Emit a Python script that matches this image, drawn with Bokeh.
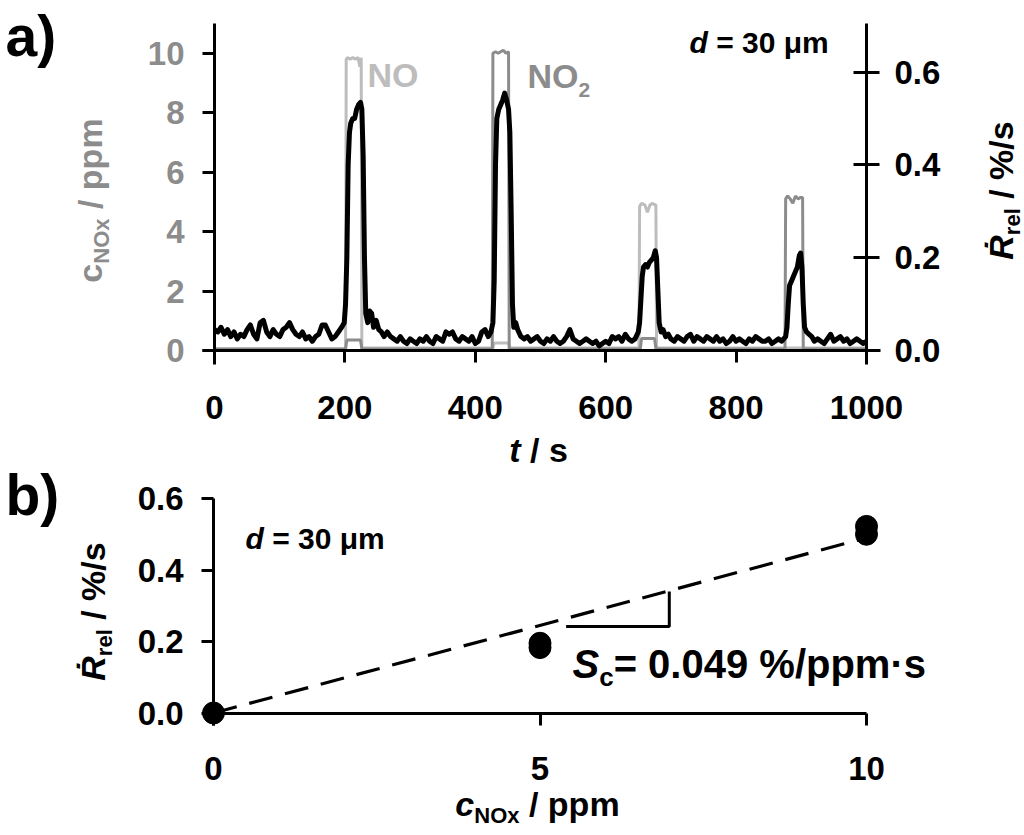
import math
from bokeh.plotting import figure
from bokeh.models import LinearAxis, Range1d, FixedTicker, Label, PrintfTickFormatter
from bokeh.embed import file_html
from bokeh.resources import INLINE

# ---------------- data: panel a ----------------
t_resp = [0, 5, 10, 15, 20, 25, 30, 35, 40, 45, 50, 55, 60, 65, 70, 75, 80, 85, 90, 95,
          100, 105, 110, 115, 120, 125, 130, 135, 140, 145, 150, 155, 160, 165, 170, 175, 180, 185, 190, 195,
          199, 201, 203, 205, 207, 209, 212, 215, 218, 221, 224, 226, 228, 230, 232, 235, 238, 241, 244, 248,
          252, 256, 260, 265, 270, 275, 280, 285, 290, 295, 300, 305, 310, 315, 320, 325, 330, 335, 340, 345,
          350, 355, 360, 365, 370, 375, 380, 385, 390, 395, 400, 405, 410, 415, 420, 424,
          427, 429, 431, 433, 436, 439, 442, 445, 448, 451, 453, 455, 457, 459, 462, 465, 470, 475, 480, 485,
          490, 495, 500, 505, 510, 515, 520, 525, 530, 535, 540, 545, 550, 555, 560, 565, 570, 575, 580, 585,
          590, 595, 600, 605, 610, 615, 620, 625, 630, 635, 640, 645, 650,
          652, 654, 656, 658, 661, 664, 667, 670, 673, 676, 678, 680, 682, 685, 688, 692, 696, 700, 705, 710,
          715, 720, 725, 730, 735, 740, 745, 750, 755, 760, 765, 770, 775, 780, 785, 790, 795, 800, 805, 810,
          815, 820, 825, 830, 835, 840, 845, 850, 855, 860, 865, 870, 876,
          878, 880, 882, 885, 888, 891, 894, 897, 899, 901, 903, 905, 908, 912, 916, 920, 925, 930, 935, 940,
          945, 950, 955, 960, 965, 970, 975, 980, 985, 990, 995, 1000]
r_resp = [0.045, 0.040, 0.050, 0.035, 0.045, 0.030, 0.040, 0.025, 0.035, 0.030, 0.045, 0.055, 0.035, 0.025, 0.060, 0.065, 0.040, 0.030, 0.045, 0.035,
          0.030, 0.045, 0.050, 0.060, 0.045, 0.035, 0.030, 0.040, 0.025, 0.030, 0.020, 0.030, 0.035, 0.055, 0.055, 0.040, 0.025, 0.030, 0.040, 0.050,
          0.060, 0.100, 0.200, 0.400, 0.470, 0.490, 0.500, 0.500, 0.520, 0.530, 0.535, 0.520, 0.420, 0.200, 0.080, 0.060, 0.085, 0.080, 0.050, 0.065,
          0.045, 0.040, 0.030, 0.040, 0.030, 0.025, 0.020, 0.030, 0.020, 0.015, 0.025, 0.020, 0.015, 0.025, 0.020, 0.030, 0.020, 0.015, 0.030, 0.025,
          0.020, 0.040, 0.035, 0.040, 0.025, 0.020, 0.030, 0.025, 0.020, 0.030, 0.015, 0.020, 0.040, 0.045, 0.030, 0.040,
          0.060, 0.150, 0.400, 0.500, 0.520, 0.530, 0.540, 0.555, 0.540, 0.520, 0.470, 0.300, 0.100, 0.050, 0.060, 0.045, 0.030, 0.025, 0.030, 0.020,
          0.025, 0.030, 0.020, 0.015, 0.025, 0.020, 0.030, 0.020, 0.015, 0.020, 0.030, 0.045, 0.025, 0.020, 0.015, 0.020, 0.025, 0.020, 0.015, 0.020,
          0.010, 0.015, 0.020, 0.015, 0.030, 0.025, 0.030, 0.020, 0.035, 0.025, 0.020, 0.025, 0.040,
          0.060, 0.110, 0.160, 0.180, 0.185, 0.180, 0.190, 0.195, 0.200, 0.215, 0.200, 0.130, 0.060, 0.040, 0.045, 0.030, 0.035, 0.025, 0.020, 0.030,
          0.025, 0.020, 0.030, 0.035, 0.020, 0.030, 0.025, 0.020, 0.030, 0.025, 0.020, 0.030, 0.020, 0.025, 0.015, 0.020, 0.030, 0.020, 0.025, 0.020,
          0.015, 0.025, 0.020, 0.030, 0.025, 0.020, 0.020, 0.025, 0.015, 0.020, 0.025, 0.020, 0.030,
          0.050, 0.100, 0.140, 0.150, 0.160, 0.170, 0.180, 0.205, 0.210, 0.180, 0.100, 0.050, 0.040, 0.035, 0.030, 0.020, 0.025, 0.020, 0.015, 0.025,
          0.035, 0.020, 0.025, 0.030, 0.020, 0.025, 0.015, 0.020, 0.025, 0.020, 0.015, 0.020]

t_no = [0, 201, 202, 204, 208, 212, 216, 220, 223, 225, 226, 427, 429, 451, 453, 651, 652, 655, 660, 664, 668, 672, 675, 677, 678, 1000]
c_no = [0.05, 0.05, 9.80, 9.85, 9.80, 9.85, 9.80, 9.85, 9.55, 9.85, 0.08, 0.08, 0.25, 0.25, 0.08, 0.08, 4.85, 4.95, 4.90, 4.65, 4.90, 4.95, 4.90, 4.90, 0.08, 0.08]

t_no2 = [0, 201, 203, 224, 226, 426, 427, 431, 435, 439, 443, 447, 451, 452, 653, 655, 675, 677, 875, 876, 879, 883, 887, 891, 895, 899, 902, 903, 1000]
c_no2 = [0.05, 0.05, 0.35, 0.35, 0.05, 0.05, 10.00, 10.05, 10.00, 10.05, 10.10, 10.00, 10.05, 0.05, 0.05, 0.40, 0.40, 0.05, 0.05, 5.10, 5.20, 5.10, 4.95, 5.20, 5.10, 5.15, 5.15, 0.05, 0.05]

t_ticks = [0, 200, 400, 600, 800, 1000]
c_ticks = [0, 2, 4, 6, 8, 10]
r_ticks = [0.0, 0.2, 0.4, 0.6]

# ---------------- data: panel b ----------------
conc_b = [0, 5, 5, 10, 10]
rate_b = [0.0, 0.183, 0.195, 0.500, 0.522]
fit_conc = [0, 10]
fit_rate = [0.0, 0.49]
slope_tri_x = [5.4, 6.98, 6.98]
slope_tri_y = [0.242, 0.242, 0.340]
b_x_ticks = [0, 5, 10]
b_y_ticks = [0.0, 0.2, 0.4, 0.6]

# ---------------- helpers ----------------
FONT = "Liberation Sans"
GRAY_LIGHT = "#bdbdbd"
GRAY_MID = "#8c8c8c"
MID = 0.35   # offset of the label anchor (text middle) above the baseline, in em
W = {' ': 278, '%': 889, '(': 333, ')': 333, '.': 278, '/': 278, '=': 584, '·': 278,
     'a': 556, 'b': 611, 'c': 556, 'd': 611, 'e': 556, 'l': 278, 'm': 889, 'p': 611,
     'r': 389, 's': 556, 't': 333, 'x': 556, 'N': 722, 'O': 778, 'R': 722, 'S': 667,
     'μ': 611, 'Ṙ': 722}

WIDTH = 1024
HEIGHT = 834


def tw(text, size):
    return sum(W.get(ch, 556) for ch in text) / 1000.0 * size


def runs_len(runs):
    return sum(tw(r[0], r[1]) for r in runs)


def put(fig, runs, x0, y0, angle=0.0):
    """Place text runs; x0,y0 = page pixel coordinates of the baseline start."""
    x, y = x0, y0
    for text, size, italic, color, dy in runs:
        lead = len(text) - len(text.lstrip(" "))
        if lead:
            adv = tw(" " * lead, size)
            if angle == 0:
                x += adv
            else:
                y -= adv
            text = text.lstrip(" ")
        if angle == 0:
            ix, iy = x, y + dy - MID * size
        else:
            ix, iy = x + dy - MID * size, y
        fig.add_layout(Label(x=ix, y=HEIGHT - iy, x_units="screen", y_units="screen", text=text,
                             text_font=FONT, text_font_size=f"{size}px",
                             text_font_style="bold italic" if italic else "bold",
                             text_color=color, text_align="left", text_baseline="middle",
                             angle=angle))
        if angle == 0:
            x += tw(text, size)
        else:
            y -= tw(text, size)


def style_axis(ax, ticks, tick_in, tick_out, standoff, label_color="black", fmt=None):
    ax.ticker = FixedTicker(ticks=ticks)
    ax.axis_line_width = 3
    ax.axis_line_color = "black"
    ax.major_tick_line_width = 3
    ax.major_tick_line_color = "black"
    ax.major_tick_in = tick_in
    ax.major_tick_out = tick_out
    ax.minor_tick_line_color = None
    ax.major_label_text_font = FONT
    ax.major_label_text_font_style = "bold"
    ax.major_label_text_font_size = "33px"
    ax.major_label_text_color = label_color
    ax.major_label_standoff = standoff
    if fmt:
        ax.formatter = PrintfTickFormatter(format=fmt)


# page-pixel anchors of the two panels
ax_t0, ax_t1 = 214.0, 866.0          # panel a: t = 0, 1000
ay_0, ay_10 = 350.0, 52.7            # panel a: c = 0, 10
ar_0, ar_06 = 350.0, 71.7            # panel a: R = 0, 0.6
bx0, bx10 = 213.0, 866.0             # panel b: c = 0, 10
by0, by06 = 712.5, 498.0             # panel b: R = 0, 0.6
ppx = (ax_t1 - ax_t0) / 1000.0
ppc = (ay_0 - ay_10) / 10.0
ppr = (ar_0 - ar_06) / 0.6
ppbx = (bx10 - bx0) / 10.0
ppby = (by0 - by06) / 0.6

p = figure(width=WIDTH, height=HEIGHT, output_backend="svg", toolbar_location=None,
           x_axis_type=None, y_axis_type=None,
           x_range=Range1d(-ax_t0 / ppx, (WIDTH - ax_t0) / ppx),
           y_range=Range1d(-(HEIGHT - ay_0) / ppc, ay_0 / ppc),
           min_border_left=0, min_border_right=0, min_border_top=0, min_border_bottom=0)
p.extra_y_ranges = {"r": Range1d(-(HEIGHT - ar_0) / ppr, ar_0 / ppr),
                    "by": Range1d(-(HEIGHT - by0) / ppby, by0 / ppby)}
p.extra_x_ranges = {"bx": Range1d(-bx0 / ppbx, (WIDTH - bx0) / ppbx)}
p.outline_line_color = None
p.background_fill_color = "white"
p.border_fill_color = "white"

# ---- panel a marks ----
p.line(t_no, c_no, line_color=GRAY_LIGHT, line_width=3)
p.line(t_no2, c_no2, line_color=GRAY_MID, line_width=3)
p.line(t_resp, r_resp, line_color="black", line_width=5, y_range_name="r", line_join="round")

ax_left = LinearAxis(fixed_location=0)
style_axis(ax_left, c_ticks, 0, 12, 18, label_color=GRAY_MID)
ax_left.bounds = (-(364 - ay_0) / ppc, (ay_0 - 23) / ppc)
p.add_layout(ax_left, "left")

ax_right = LinearAxis(fixed_location=1000, y_range_name="r")
style_axis(ax_right, r_ticks, 13, 13, 15, fmt="%.1f")
ax_right.bounds = (-(364 - ar_0) / ppr, (ar_0 - 23) / ppr)
p.add_layout(ax_right, "right")

ax_bot = LinearAxis(fixed_location=0)
style_axis(ax_bot, t_ticks, 0, 12, 33)
ax_bot.bounds = ((202 - ax_t0) / ppx, (880 - ax_t0) / ppx)
p.add_layout(ax_bot, "below")

# ---- panel b marks ----
p.line(fit_conc, fit_rate, line_color="black", line_width=3.2, line_dash="24 13",
       x_range_name="bx", y_range_name="by")
p.line(slope_tri_x, slope_tri_y, line_color="black", line_width=3,
       x_range_name="bx", y_range_name="by")
p.scatter(conc_b, rate_b, size=22, fill_color="black", line_color="black",
          x_range_name="bx", y_range_name="by")

bax_left = LinearAxis(fixed_location=0, x_range_name="bx", y_range_name="by")
style_axis(bax_left, b_y_ticks, 0, 12, 18, fmt="%.1f")
bax_left.bounds = (-(725 - by0) / ppby, 0.6)
p.add_layout(bax_left, "left")

bax_bot = LinearAxis(fixed_location=0, x_range_name="bx", y_range_name="by")
style_axis(bax_bot, b_x_ticks, 0, 12, 32)
bax_bot.bounds = (0, 10)
p.add_layout(bax_bot, "below")

# ---- texts panel a ----
put(p, [("a)", 57, False, "black", 0)], 5, 55)
put(p, [("d", 30, True, "black", 0), (" = 30 μm", 30, False, "black", 0)], 689, 52)
put(p, [("NO", 34, False, GRAY_LIGHT, 0)], 367, 86)
put(p, [("NO", 34, False, GRAY_MID, 0), ("2", 21, False, GRAY_MID, 10)], 527, 87)
runs = [("t", 34, True, "black", 0), (" / s", 34, False, "black", 0)]
put(p, runs, 538 - runs_len(runs) / 2, 461)
runs = [("c", 34, False, GRAY_MID, 0), ("NOx", 22, False, GRAY_MID, 8), (" / ppm", 34, False, GRAY_MID, 0)]
put(p, runs, 101, 200 + runs_len(runs) / 2, angle=math.pi / 2)
runs = [("Ṙ", 34, True, "black", 0), ("rel", 22, False, "black", 8), (" / %/s", 34, False, "black", 0)]
put(p, runs, 1012, 190 + runs_len(runs) / 2, angle=math.pi / 2)

# ---- texts panel b ----
put(p, [("b)", 57, False, "black", 0)], 5, 514)
put(p, [("d", 30, True, "black", 0), (" = 30 μm", 30, False, "black", 0)], 245, 548)
put(p, [("S", 40, True, "black", 0), ("c", 26, False, "black", 9),
        ("= 0.049 %/ppm·s", 40, False, "black", 0)], 572, 677)
runs = [("c", 34, True, "black", 0), ("NOx", 22, False, "black", 8), (" / ppm", 34, False, "black", 0)]
put(p, runs, 537 - runs_len(runs) / 2, 815)
runs = [("Ṙ", 34, True, "black", 0), ("rel", 22, False, "black", 8), (" / %/s", 34, False, "black", 0)]
put(p, runs, 104, 611 + runs_len(runs) / 2, angle=math.pi / 2)

open("out.html", "w").write(file_html(p, INLINE))
